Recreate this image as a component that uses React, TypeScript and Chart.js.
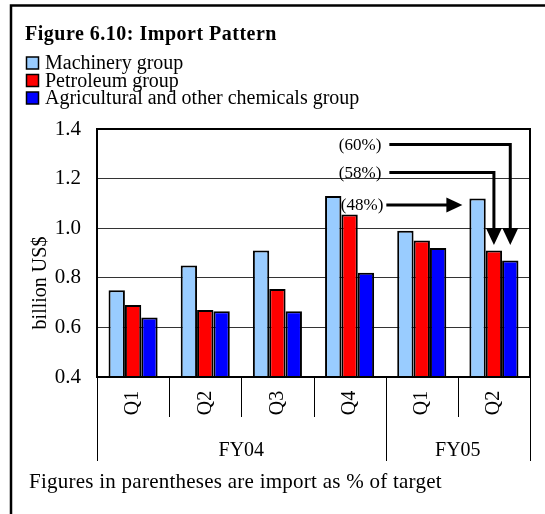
import React, { useEffect, useRef } from 'react';
import { Chart, registerables } from 'chart.js';

Chart.register(...registerables);

// ---- data ----
const quarters = ['Q1', 'Q2', 'Q3', 'Q4', 'Q1', 'Q2'];
const fiscalYears = ['FY04', 'FY04', 'FY04', 'FY04', 'FY05', 'FY05'];
const machinery = [0.75, 0.85, 0.91, 1.13, 0.99, 1.12];
const petroleum = [0.69, 0.67, 0.755, 1.055, 0.95, 0.91];
const agricultural = [0.64, 0.665, 0.665, 0.82, 0.92, 0.87];
const seriesNames = ['Machinery group', 'Petroleum group', 'Agricultural and other chemicals group'];
const seriesColors = ['#99CCFF', '#FF0000', '#0000FF'];
const yMin = 0.4;
const yMax = 1.4;
const yStep = 0.2;
const shareLabels = ['(60%)', '(58%)', '(48%)'];
const shareLevels = [1.338, 1.225, 1.094];
const shareTargets = [2, 1, 0];
const arrowTipValue = 0.932;
const titleText = 'Figure 6.10: Import Pattern';
const yTitle = 'billion US$';
const footnote = 'Figures in parentheses are import as % of target';

const SERIF = "'Liberation Serif', 'Times New Roman', serif";

const decorPlugin = {
  id: 'decor',
  beforeDraw(chart: any) {
    const ctx = chart.ctx;
    ctx.save();
    ctx.fillStyle = '#fff';
    ctx.fillRect(0, 0, chart.width, chart.height);
    ctx.restore();
  },
  afterDraw(chart: any) {
    const { ctx, chartArea: a } = chart;
    const x = chart.scales.x;
    const y = chart.scales.y;
    ctx.save();

    // plot border
    ctx.strokeStyle = '#000';
    ctx.lineWidth = 2;
    ctx.strokeRect(a.left, a.top, a.right - a.left, a.bottom - a.top);

    // category boundaries
    const n = quarters.length;
    const bounds: number[] = [a.left];
    for (let i = 1; i < n; i++) bounds.push((x.getPixelForValue(i - 1) + x.getPixelForValue(i)) / 2);
    bounds.push(a.right);
    const qBottom = a.bottom + 40;
    const fyBottom = a.bottom + 84;
    ctx.lineWidth = 1;
    ctx.strokeStyle = '#000';
    for (let i = 0; i <= n; i++) {
      const groupEdge = i === 0 || i === n || fiscalYears[i] !== fiscalYears[i - 1];
      const px = Math.round(bounds[i]) + 0.5;
      ctx.beginPath();
      ctx.moveTo(px, a.bottom);
      ctx.lineTo(px, groupEdge ? fyBottom : qBottom);
      ctx.stroke();
    }

    // quarter labels
    ctx.fillStyle = '#000';
    ctx.font = `20px ${SERIF}`;
    for (let i = 0; i < n; i++) {
      ctx.save();
      ctx.translate(x.getPixelForValue(i), a.bottom + 26);
      ctx.rotate(-Math.PI / 2);
      ctx.textAlign = 'center';
      ctx.textBaseline = 'middle';
      ctx.fillText(quarters[i], 0, 0);
      ctx.restore();
    }

    // fiscal-year labels
    ctx.textAlign = 'center';
    ctx.textBaseline = 'alphabetic';
    let start = 0;
    for (let i = 1; i <= n; i++) {
      if (i === n || fiscalYears[i] !== fiscalYears[start]) {
        ctx.fillText(fiscalYears[start], (bounds[start] + bounds[i]) / 2, a.bottom + 78.5);
        start = i;
      }
    }

    // y-axis title
    ctx.save();
    ctx.translate(46, (a.top + a.bottom) / 2 + 30);
    ctx.rotate(-Math.PI / 2);
    ctx.textAlign = 'center';
    ctx.textBaseline = 'alphabetic';
    ctx.fillText(yTitle, 0, 0);
    ctx.restore();

    // title
    ctx.textAlign = 'left';
    ctx.font = `bold 20px ${SERIF}`;
    (ctx as any).letterSpacing = '0.5px';
    ctx.fillText(titleText, 25, 40);
    (ctx as any).letterSpacing = '0px';

    // legend
    ctx.font = `20px ${SERIF}`;
    const rowY = [69, 86.5, 104];
    for (let k = 0; k < seriesNames.length; k++) {
      const by = rowY[k] - 12;
      ctx.fillStyle = seriesColors[k];
      ctx.fillRect(26.5, by, 12, 12);
      ctx.strokeStyle = '#000';
      ctx.lineWidth = 1.5;
      ctx.strokeRect(26.5, by, 12, 12);
      ctx.fillStyle = '#000';
      ctx.fillText(seriesNames[k], 45, rowY[k]);
    }

    // footnote
    ctx.font = `21px ${SERIF}`;
    (ctx as any).letterSpacing = '0.25px';
    ctx.fillText(footnote, 29, 488);
    (ctx as any).letterSpacing = '0px';

    // annotations
    const catW = x.getPixelForValue(1) - x.getPixelForValue(0);
    const textRight = x.getPixelForValue(3) + 0.44 * catW;
    const last = n - 1;
    const tipY = y.getPixelForValue(arrowTipValue);
    ctx.font = `17px ${SERIF}`;
    ctx.textAlign = 'right';
    ctx.textBaseline = 'middle';
    ctx.strokeStyle = '#000';
    ctx.fillStyle = '#000';
    ctx.lineWidth = 3;
    for (let k = 0; k < shareLabels.length; k++) {
      const ly = y.getPixelForValue(shareLevels[k]);
      const tr = k < 2 ? textRight : textRight + 2;
      ctx.fillText(shareLabels[k], tr, ly + 1);
      const bar = chart.getDatasetMeta(shareTargets[k]).data[last];
      if (k < 2) {
        const bx = bar.x;
        ctx.beginPath();
        ctx.moveTo(textRight + 8, ly);
        ctx.lineTo(bx, ly);
        ctx.lineTo(bx, tipY - 10);
        ctx.stroke();
        ctx.beginPath();
        ctx.moveTo(bx - 8, tipY - 17);
        ctx.lineTo(bx + 8, tipY - 17);
        ctx.lineTo(bx, tipY);
        ctx.closePath();
        ctx.fill();
      } else {
        const tipX = bar.x - bar.width / 2 - 7;
        ctx.beginPath();
        ctx.moveTo(tr + 3, ly);
        ctx.lineTo(tipX - 10, ly);
        ctx.stroke();
        ctx.beginPath();
        ctx.moveTo(tipX - 16, ly - 7.5);
        ctx.lineTo(tipX - 16, ly + 7.5);
        ctx.lineTo(tipX, ly);
        ctx.closePath();
        ctx.fill();
      }
    }

    // outer frame
    ctx.lineWidth = 2.5;
    ctx.strokeStyle = '#000';
    ctx.beginPath();
    ctx.moveTo(11, chart.height + 2);
    ctx.lineTo(11, 5.5);
    ctx.lineTo(chart.width + 2, 5.5);
    ctx.stroke();

    ctx.restore();
  },
};

export default function App() {
  const ref = useRef<HTMLCanvasElement>(null);
  useEffect(() => {
    const seriesValues = [machinery, petroleum, agricultural];
    const chart = new Chart(ref.current as HTMLCanvasElement, {
      type: 'bar',
      data: {
        labels: quarters,
        datasets: seriesValues.map((vals, k) => ({
          label: seriesNames[k],
          data: vals,
          backgroundColor: seriesColors[k],
          borderColor: '#000',
          borderWidth: 2,
          barPercentage: 1,
          categoryPercentage: 0.68,
        })),
      },
      options: {
        responsive: false,
        animation: false,
        devicePixelRatio: 1,
        layout: { padding: { left: 0, top: 129, right: 15, bottom: 0 } },
        plugins: {
          legend: { display: false },
          title: { display: false },
          tooltip: { enabled: false },
        },
        scales: {
          x: {
            display: true,
            ticks: { display: false },
            grid: { display: false },
            border: { display: false },
            afterFit: (s: any) => {
              s.height = 137;
            },
          },
          y: {
            min: yMin,
            max: yMax,
            ticks: {
              stepSize: yStep,
              color: '#000',
              padding: 16,
              font: { family: SERIF, size: 21 },
              callback: (v: any) => Number(v).toFixed(1),
            },
            grid: { color: '#333', lineWidth: 1, drawTicks: false },
            border: { display: false },
            afterFit: (s: any) => {
              s.width = 97;
            },
          },
        },
      },
      plugins: [decorPlugin],
    } as any);
    return () => chart.destroy();
  }, []);
  return (
    <div style={{ position: 'fixed', left: 0, top: 0, width: 545, height: 514 }}>
      <canvas ref={ref} width={545} height={514} style={{ display: 'block', width: 545, height: 514 }} />
    </div>
  );
}
